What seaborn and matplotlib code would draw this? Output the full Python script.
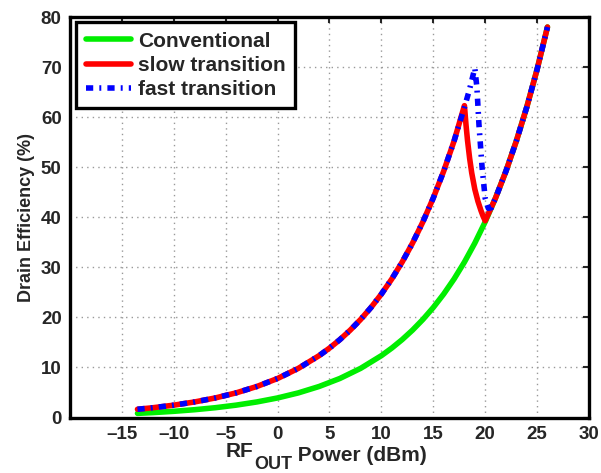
import matplotlib
matplotlib.use("Agg")
import matplotlib.pyplot as plt
import seaborn as sns

# Output power sweep (dBm) and drain efficiency (%) for each bias scheme
conv_x = [-13.5, -12, -10, -8, -6, -4, -2, 0, 2, 4, 6, 8, 10, 11, 12, 13, 14, 15,
          16, 17, 18, 19, 20, 21, 22, 23, 24, 25, 26]
conv_y = [0.83, 0.98, 1.24, 1.56, 1.96, 2.47, 3.11, 3.91, 4.92, 6.20, 7.80, 9.82,
          12.36, 13.87, 15.56, 17.46, 19.59, 21.98, 24.66, 27.67, 31.05, 34.84,
          39.09, 43.86, 49.20, 55.22, 61.96, 69.52, 78.0]

slow_x = [-13.5, -12, -10, -8, -6, -4, -2, 0, 2, 4, 5, 6, 7, 8, 9, 10, 11, 12, 13,
          14, 15, 16, 17, 18, 18.15, 18.3, 18.5, 18.7, 19.0, 19.3, 19.6, 19.8, 20.0,
          21, 22, 23, 24, 25, 26]
slow_y = [1.65, 1.96, 2.47, 3.11, 3.91, 4.92, 6.20, 7.80, 9.82, 12.36, 13.87, 15.56,
          17.46, 19.59, 21.98, 24.66, 27.67, 31.05, 34.84, 39.09, 43.86, 49.20,
          55.22, 62.3, 58.5, 55.3, 51.8, 48.9, 45.6, 43.2, 41.3, 40.2, 39.3,
          43.86, 49.20, 55.22, 61.96, 69.52, 78.0]

fast_x = [-13.5, -12, -10, -8, -6, -4, -2, 0, 2, 4, 5, 6, 7, 8, 9, 10, 11, 12, 13,
          14, 15, 16, 17, 18, 18.5, 19.0, 19.2, 19.4, 19.7, 20.0, 20.3, 20.6, 21, 22,
          23, 24, 25, 26]
fast_y = [1.65, 1.96, 2.47, 3.11, 3.91, 4.92, 6.20, 7.80, 9.82, 12.36, 13.87, 15.56,
          17.46, 19.59, 21.98, 24.66, 27.67, 31.05, 34.84, 39.09, 43.86, 49.20,
          55.22, 61.96, 65.6, 69.8, 66.0, 58.5, 50.0, 43.8, 41.8, 41.9, 43.86, 49.20,
          55.22, 61.96, 69.52, 78.0]

series_labels = ["Conventional", "slow transition", "fast transition"]
x_ticks = [-15, -10, -5, 0, 5, 10, 15, 20, 25, 30]
y_ticks = [0, 10, 20, 30, 40, 50, 60, 70, 80]

sns.set_style("white")
plt.rcParams["font.family"] = ["Liberation Sans", "DejaVu Sans"]
plt.rcParams["font.weight"] = "bold"

fig = plt.figure(figsize=(6.01, 4.73), dpi=100)
ax = fig.add_axes([0.1165, 0.1173, 0.8635, 0.8467])

lw = 4.0
sns.lineplot(x=conv_x, y=conv_y, ax=ax, color="#00ee00", lw=lw, sort=False,
             label=series_labels[0])
sns.lineplot(x=slow_x, y=slow_y, ax=ax, color="#ff0000", lw=lw, sort=False,
             label=series_labels[1])
line_fast = sns.lineplot(x=fast_x, y=fast_y, ax=ax, color="#0000ff", lw=lw,
                         sort=False, label=series_labels[2]).lines[-1]
line_fast.set_dashes((1.3, 1.1, 0.35, 1.1))
line_fast.set_dash_capstyle("butt")

ax.set_xlim(-20, 30)
ax.set_ylim(0, 80)
ax.set_xticks(x_ticks)
ax.set_yticks(y_ticks)
ax.set_xticklabels(["\u2013" + str(abs(v)) if v < 0 else str(v) for v in x_ticks])
ax.tick_params(axis="both", which="both", direction="in", length=4, width=1.5,
               top=True, right=True, labelsize=13.5, pad=6)
for lab in ax.get_xticklabels() + ax.get_yticklabels():
    lab.set_fontweight("bold")

ax.grid(True, linestyle=(0, (1, 3)), color="#999999", linewidth=1.0)
for sp in ax.spines.values():
    sp.set_linewidth(2.4)
    sp.set_color("black")

# x label built from pieces so the subscript stays large and well lowered
ax.set_xlabel("")
t_rf = ax.text(0.30, -0.098, "RF", transform=ax.transAxes, fontsize=15,
               fontweight="bold", ha="left", va="baseline")
t_out = ax.annotate("OUT", xy=(1, 0), xycoords=t_rf, xytext=(0.5, -6.0),
                    textcoords="offset points", fontsize=13, fontweight="bold",
                    ha="left", va="baseline")
ax.annotate(" Power (dBm)", xy=(1, 0), xycoords=(t_out, t_rf), xytext=(0, 0),
            textcoords="offset points", fontsize=15, fontweight="bold",
            ha="left", va="baseline")

ax.set_ylabel("Drain Efficiency (%)", fontsize=13, fontweight="bold", labelpad=4)

leg = ax.legend(loc="upper left", bbox_to_anchor=(0.012, 0.987), frameon=True,
                fancybox=False, edgecolor="black", framealpha=1,
                prop={"weight": "bold", "size": 15}, handlelength=2.2,
                handletextpad=0.3, borderpad=0.45, labelspacing=0.25,
                borderaxespad=0.0)
leg.get_frame().set_linewidth(2.4)

fig.savefig("out.png", dpi=100)
